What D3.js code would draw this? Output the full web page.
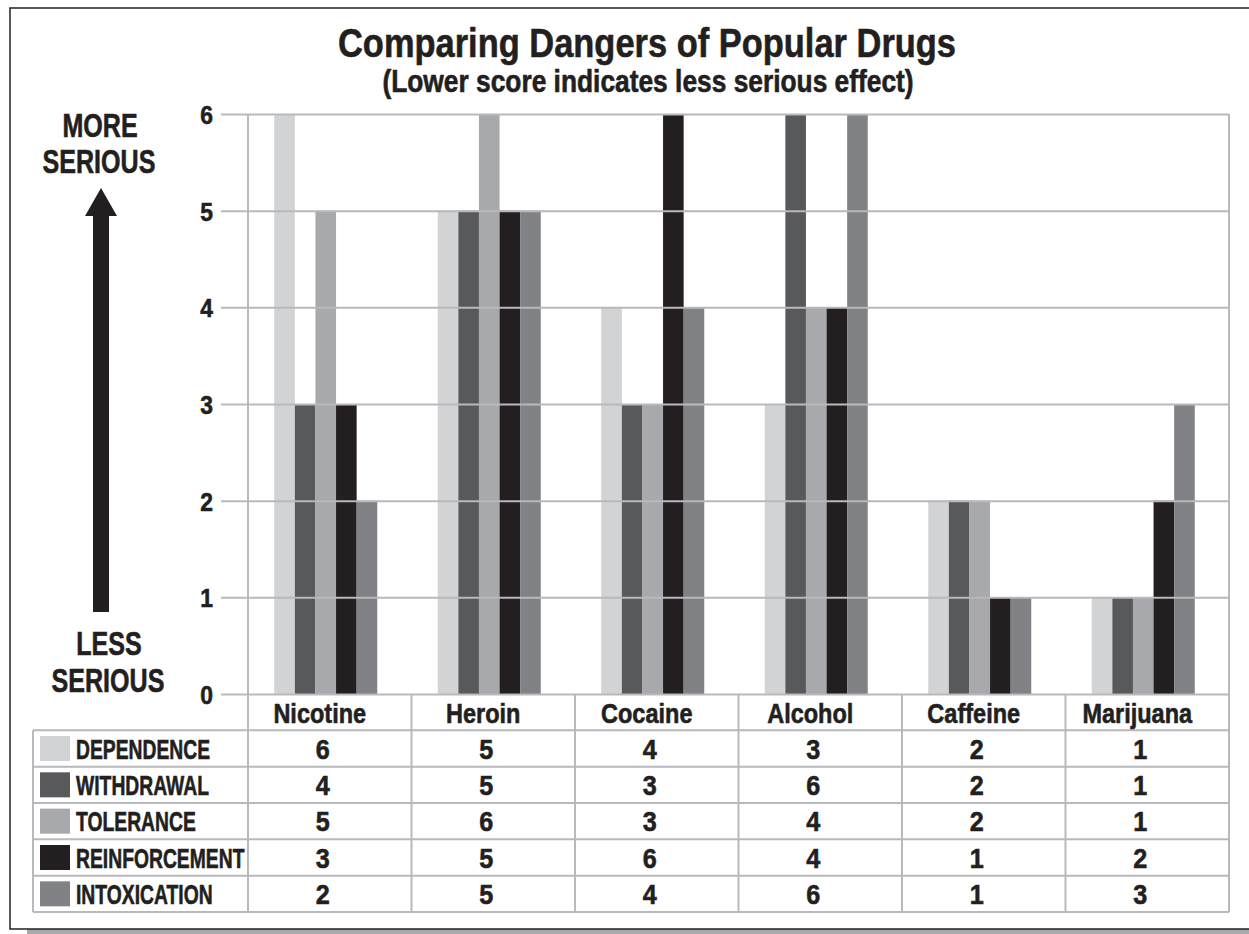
<!DOCTYPE html>
<html>
<head>
<meta charset="utf-8">
<script src="https://cdn.jsdelivr.net/npm/d3@7"></script>
<style>
  body { margin: 0; background: #fff; }
  text { font-family: "Liberation Sans", Arial, sans-serif; font-weight: bold; fill: #231f20;
         stroke: #231f20; stroke-width: 0.6px; }
</style>
</head>
<body>
<div id="chart"></div>
<script>
// data
const drugs = ["Nicotine", "Heroin", "Cocaine", "Alcohol", "Caffeine", "Marijuana"];
const seriesNames = ["DEPENDENCE", "WITHDRAWAL", "TOLERANCE", "REINFORCEMENT", "INTOXICATION"];
const dependence = [6, 5, 4, 3, 2, 1];
const withdrawal = [4, 5, 3, 6, 2, 1];
const tolerance = [5, 6, 3, 4, 2, 1];
const reinforcement = [3, 5, 6, 4, 1, 2];
const intoxication = [2, 5, 4, 6, 1, 3];
// the original draws the nicotine withdrawal bar at 3 although its table says 4
const withdrawalBars = [3, 5, 3, 6, 2, 1];
const yTicks = [0, 1, 2, 3, 4, 5, 6];
const colors = ["#d1d3d4", "#58595b", "#a7a9ac", "#231f20", "#808285"];

const tableValues = [dependence, withdrawal, tolerance, reinforcement, intoxication];
const barValues = [dependence, withdrawalBars, tolerance, reinforcement, intoxication];

const W = 1249, H = 934;
const plot = { left: 248, right: 1229, top: 114, bottom: 694 };
const tableLeft = 33, tableBottom = 912, gridLeft = 221;
const gridColor = "#b8b9bc";
// no condensed face is installed, so squeeze the bold sans horizontally
const narrow = 0.84;
const capsNarrow = 0.69;

const svg = d3.select("#chart").append("svg")
    .attr("width", W)
    .attr("height", H);

// place a text at (x, y) with horizontal squeeze
function squeeze(sel, fx, fy, sx) {
    sel.attr("transform", (d, i) => "translate(" + fx(d, i) + "," + fy(d, i) + ") scale(" + sx + ",1)");
}

// outer frame with drop shadow
svg.append("rect")
    .attr("x", 27).attr("y", 12)
    .attr("width", W).attr("height", H - 10)
    .attr("fill", "#a7a9ac");
svg.append("rect")
    .attr("x", 10).attr("y", 8)
    .attr("width", W + 20).attr("height", 921)
    .attr("fill", "#fff")
    .attr("stroke", "#231f20")
    .attr("stroke-width", 1.5);

// scales
const x = d3.scaleBand()
    .domain(drugs)
    .range([plot.left, plot.right]);

const groupW = x.bandwidth() * 0.63;
const xs = d3.scaleBand()
    .domain(seriesNames)
    .range([0, groupW]);

const y = d3.scaleLinear()
    .domain([0, 6])
    .range([plot.bottom, plot.top]);

const rowNames = ["header"].concat(seriesNames);
const row = d3.scaleBand()
    .domain(rowNames)
    .range([plot.bottom, tableBottom]);

// bars
const barData = [];
drugs.forEach((d, i) => {
    seriesNames.forEach((s, j) => {
        barData.push({ drug: d, series: s, value: barValues[j][i], color: colors[j] });
    });
});

svg.append("g")
    .selectAll("rect")
    .data(barData)
    .join("rect")
    .attr("x", d => x(d.drug) + (x.bandwidth() - groupW) / 2 - 4 + xs(d.series))
    .attr("y", d => y(d.value))
    .attr("width", xs.bandwidth())
    .attr("height", d => y(0) - y(d.value))
    .attr("fill", d => d.color);

// gridlines + tick labels
const yAxis = svg.append("g")
    .attr("transform", "translate(" + gridLeft + ",0)")
    .call(d3.axisLeft(y)
        .tickValues(yTicks)
        .tickFormat(d3.format("d"))
        .tickSize(-(plot.right - gridLeft))
        .tickPadding(8));
yAxis.select(".domain").remove();
yAxis.selectAll(".tick line")
    .attr("stroke", gridColor)
    .attr("stroke-width", 2);
yAxis.selectAll(".tick text")
    .attr("font-size", 26)
    .attr("fill", "#231f20")
    .attr("x", -8 / 0.88)
    .attr("dy", "0.36em")
    .attr("transform", "scale(0.88,1)");

// table lines
const lines = svg.append("g")
    .attr("stroke", gridColor)
    .attr("stroke-width", 2);

// plot sides
[plot.left, plot.right].forEach(xv => {
    lines.append("line")
        .attr("x1", xv).attr("x2", xv)
        .attr("y1", plot.top).attr("y2", tableBottom);
});
// column separators in the table
drugs.slice(1).forEach(d => {
    lines.append("line")
        .attr("x1", x(d)).attr("x2", x(d))
        .attr("y1", plot.bottom).attr("y2", tableBottom);
});
// row lines
seriesNames.forEach(s => {
    lines.append("line")
        .attr("x1", tableLeft).attr("x2", plot.right)
        .attr("y1", row(s)).attr("y2", row(s));
});
lines.append("line")
    .attr("x1", tableLeft).attr("x2", plot.right)
    .attr("y1", tableBottom).attr("y2", tableBottom);
lines.append("line")
    .attr("x1", tableLeft).attr("x2", tableLeft)
    .attr("y1", row(seriesNames[0])).attr("y2", tableBottom);

// category labels
svg.append("g")
    .selectAll("text")
    .data(drugs)
    .join("text")
    .attr("text-anchor", "middle")
    .attr("font-size", 28)
    .text(d => d)
    .call(squeeze, d => x(d) + x.bandwidth() / 2 - 10, () => row("header") + row.bandwidth() / 2 + 11, narrow);

// legend column
const legend = svg.append("g")
    .selectAll("g")
    .data(seriesNames)
    .join("g");
legend.append("rect")
    .attr("x", 40)
    .attr("y", d => row(d) + (row.bandwidth() - 25) / 2)
    .attr("width", 30)
    .attr("height", 25)
    .attr("fill", (d, i) => colors[i]);
legend.append("text")
    .attr("font-size", 28)
    .text(d => d)
    .call(squeeze, () => 76, d => row(d) + row.bandwidth() / 2 + 10, capsNarrow);

// table values
seriesNames.forEach((s, j) => {
    svg.append("g")
        .selectAll("text")
        .data(tableValues[j])
        .join("text")
        .attr("text-anchor", "middle")
        .attr("font-size", 28)
        .text(d => d)
        .call(squeeze, (d, i) => x(drugs[i]) + x.bandwidth() / 2 - 7, () => row(s) + row.bandwidth() / 2 + 10, 0.9);
});

// titles
svg.append("text")
    .attr("text-anchor", "middle")
    .attr("font-size", 41)
    .text("Comparing Dangers of Popular Drugs")
    .call(squeeze, () => 647, () => 57, narrow);
svg.append("text")
    .attr("text-anchor", "middle")
    .attr("font-size", 31)
    .text("(Lower score indicates less serious effect)")
    .call(squeeze, () => 648, () => 92, 0.85);

// severity annotation
const side = [
    { t: "MORE", cx: 100, by: 137 },
    { t: "SERIOUS", cx: 99, by: 173 },
    { t: "LESS", cx: 109, by: 655 },
    { t: "SERIOUS", cx: 108, by: 692 }
];
svg.append("g")
    .selectAll("text")
    .data(side)
    .join("text")
    .attr("text-anchor", "middle")
    .attr("font-size", 33)
    .text(d => d.t)
    .call(squeeze, d => d.cx, d => d.by, 0.76);

// arrow
svg.append("path")
    .attr("d", "M93,612 L93,216 L85,216 L101,188 L117,216 L109,216 L109,612 Z")
    .attr("fill", "#231f20");
</script>
</body>
</html>
